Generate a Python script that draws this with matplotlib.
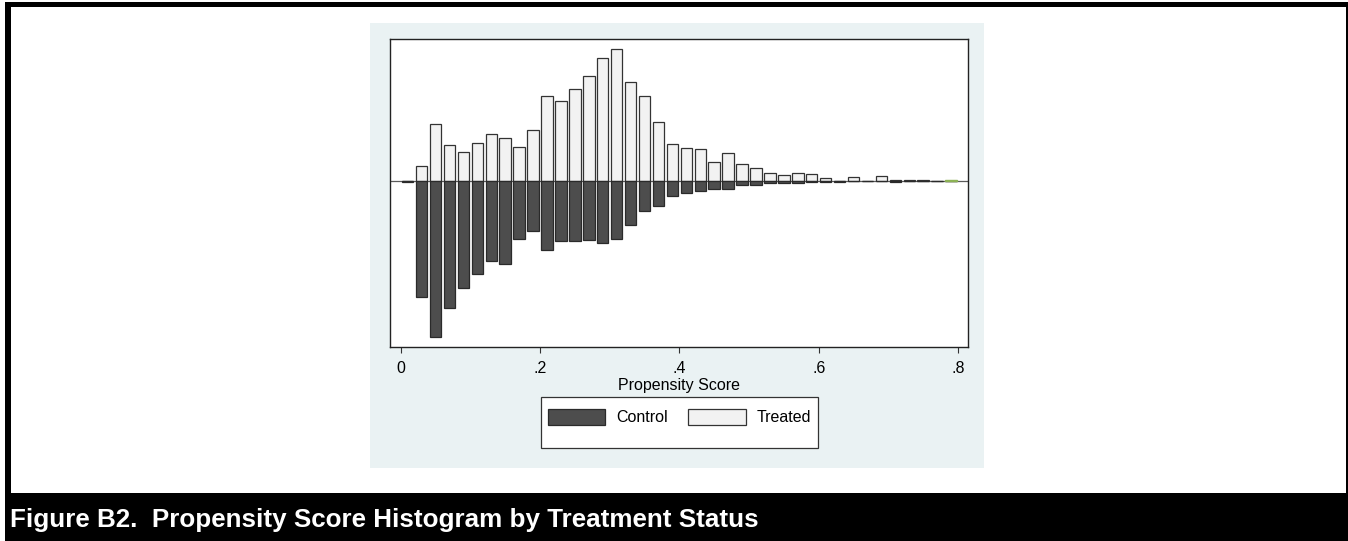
import matplotlib
matplotlib.use("Agg")
import matplotlib.pyplot as plt
from matplotlib.patches import Rectangle
import numpy as np

# ---- data (bar heights in arbitrary density units) ----
bin_centers = [0.01, 0.03, 0.05, 0.07, 0.09, 0.11, 0.13, 0.15, 0.17, 0.19,
               0.21, 0.23, 0.25, 0.27, 0.29, 0.31, 0.33, 0.35, 0.37, 0.39,
               0.41, 0.43, 0.45, 0.47, 0.49, 0.51, 0.53, 0.55, 0.57, 0.59,
               0.61, 0.63, 0.65, 0.67, 0.69, 0.71, 0.73, 0.75, 0.77, 0.79]
treated = [0.0, 4.3, 16.9, 10.8, 8.5, 11.2, 13.9, 12.7, 10.0, 15.1,
           25.3, 24.0, 27.5, 31.5, 36.8, 39.5, 29.6, 25.3, 17.6, 11.1,
           9.9, 9.4, 5.5, 8.3, 5.1, 3.8, 2.2, 1.6, 2.2, 2.0,
           0.8, 0.0, 1.0, 0.0, 1.4, 0.2, 0.15, 0.15, 0.0, 0.0]
control = [0.3, 34.8, 47.0, 38.3, 32.1, 27.9, 24.0, 25.1, 17.4, 15.1,
           20.7, 18.2, 18.0, 17.7, 18.8, 17.6, 13.4, 9.2, 7.5, 4.7,
           3.6, 3.2, 2.6, 2.5, 1.2, 1.2, 0.6, 0.6, 0.6, 0.4,
           0.3, 0.3, 0.2, 0.2, 0.2, 0.3, 0.2, 0.2, 0.0, 0.0]
other_centers = [0.79]
other_values = [0.15]
tick_values = [0, 0.2, 0.4, 0.6, 0.8]
tick_labels = ["0", ".2", ".4", ".6", ".8"]
x_label = "Propensity Score"
legend_labels = ["Control", "Treated"]
title_text = "Figure B2.  Propensity Score Histogram by Treatment Status"

W, H = 1348, 541
plt.rcParams["font.family"] = ["Liberation Sans", "DejaVu Sans"]
fig = plt.figure(figsize=(W / 100, H / 100), dpi=100)
fig.patch.set_facecolor("white")


def px_rect(x0, y0, x1, y1, z=1, **kw):
    """Rectangle in figure pixel coordinates (y from top)."""
    r = Rectangle((x0 / W, 1 - y1 / H), (x1 - x0) / W, (y1 - y0) / H,
                  transform=fig.transFigure, zorder=z, **kw)
    fig.patches.append(r)
    return r


# outer black frame and bottom title band
px_rect(5, 2, 1348, 7, facecolor="black", edgecolor="none")
px_rect(5, 2, 10.5, 493, facecolor="black", edgecolor="none")
px_rect(1345.5, 2, 1348, 493, facecolor="black", edgecolor="none")
px_rect(5, 492.7, 1348, 541, facecolor="black", edgecolor="none")
fig.text(10 / W, 1 - 520 / H, title_text, color="white", fontsize=18.7,
         fontweight="bold", ha="left", va="center")

# light bluish graph region
px_rect(370, 22.7, 984, 468.3, facecolor="#eaf2f3", edgecolor="none")

# plot region
ax = fig.add_axes([390.3 / W, 1 - 346.7 / H, (968.3 - 390.3) / W,
                   (346.7 - 39.3) / H])
ax.set_zorder(5)
ax.set_facecolor("white")

bw = 0.0165
ax.axhline(0, color="#5a5a5a", lw=0.9, zorder=1)
ax.bar(bin_centers, treated, width=bw, color="#f2f2f2",
       edgecolor="#333333", linewidth=0.9, zorder=2)
ax.bar(bin_centers, [-v for v in control], width=bw, color="#4d4d4d",
       edgecolor="#2a2a2a", linewidth=0.9, zorder=2)
ax.bar(other_centers, other_values, width=bw, color="none",
       edgecolor="#8db255", linewidth=1.0, zorder=2)

ax.set_xlim(-0.0149, 0.8147)
ax.set_ylim(-49.8, 42.4)
ax.set_yticks([])
ax.set_xticks(tick_values)
ax.set_xticklabels(tick_labels, fontsize=11.5)
ax.tick_params(axis="x", direction="out", length=4, width=0.8,
               color="#333333", pad=6)
for s in ax.spines.values():
    s.set_color("#222222")
    s.set_linewidth(1.0)
ax.set_xlabel(x_label, fontsize=11.5, labelpad=1.5)

# legend box (drawn as in Stata)
px_rect(541, 397, 818, 448, z=6, facecolor="white", edgecolor="#333333",
        linewidth=0.9)
px_rect(547.7, 409.3, 605.3, 425.3, z=7, facecolor="#4d4d4d",
        edgecolor="#2a2a2a", linewidth=0.9)
px_rect(688, 409.3, 746, 425.3, z=7, facecolor="#f2f2f2",
        edgecolor="#333333", linewidth=0.9)
fig.text(616 / W, 1 - 417.5 / H, legend_labels[0], fontsize=11.5,
         ha="left", va="center", zorder=8)
fig.text(756.5 / W, 1 - 417.5 / H, legend_labels[1], fontsize=11.5,
         ha="left", va="center", zorder=8)

fig.savefig("out.png", dpi=100, facecolor="white")
